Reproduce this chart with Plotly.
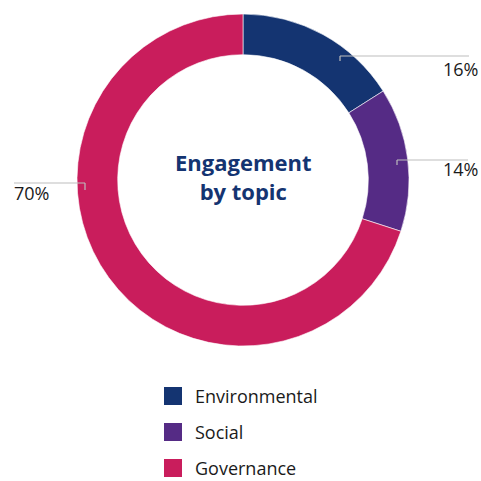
import plotly.graph_objects as go

categories = ["Environmental", "Social", "Governance"]
values = [16, 14, 70]
label_texts = ["16%", "14%", "70%"]
colors = ["#143471", "#552B85", "#C91D5C"]
center_title = "Engagement<br>by topic"

W = H = 481
cx, cy, R = 243, 180, 166

def px(x):
    return x / W

def py(y):
    return 1 - y / H

fig = go.Figure()
fig.add_trace(go.Pie(
    labels=categories, values=values, sort=False, direction="clockwise",
    rotation=0, hole=0.755, textinfo="none", hoverinfo="label+percent",
    marker=dict(colors=colors, line=dict(color="#ffffff", width=0.6)),
    domain=dict(x=[px(cx - R), px(cx + R)], y=[py(cy + R), py(cy - R)]),
    showlegend=False,
))

# leader lines: (tick start, elbow, end), label anchor
leaders = [
    ((340, 61), (340, 56), (469, 56), (480, 69), "right"),
    ((397, 165), (397, 160), (468, 160), (480, 169), "right"),
    ((85, 190), (85, 183), (14, 183), (12, 193), "left"),
]
shapes = []
annotations = []
for (p0, p1, p2, lab, anc), txt in zip(leaders, label_texts):
    for a, b in ((p0, p1), (p1, p2)):
        shapes.append(dict(type="line", xref="paper", yref="paper",
                           x0=px(a[0]), y0=py(a[1]), x1=px(b[0]), y1=py(b[1]),
                           line=dict(color="#bdbdbd", width=1.2)))
    annotations.append(dict(text=txt, x=px(lab[0]), y=py(lab[1]), xref="paper", yref="paper",
                            xanchor=anc, yanchor="middle", showarrow=False,
                            font=dict(family="Open Sans", size=18, color="#1a1a1a")))

annotations.append(dict(text="<b>" + center_title.replace("<br>", "</b><br><b>") + "</b>",
                        x=px(cx), y=py(177), xref="paper", yref="paper",
                        xanchor="center", yanchor="middle", showarrow=False,
                        font=dict(family="Open Sans", size=22, color="#143471")))

# legend
for i, (cat, col) in enumerate(zip(categories, colors)):
    yc = 396 + 36 * i
    shapes.append(dict(type="rect", xref="paper", yref="paper",
                       x0=px(164), x1=px(182), y0=py(yc - 9), y1=py(yc + 9),
                       fillcolor=col, line=dict(width=0)))
    annotations.append(dict(text=cat, x=px(193), y=py(yc), xref="paper", yref="paper",
                            xanchor="left", yanchor="middle", showarrow=False,
                            font=dict(family="Open Sans", size=18, color="#1a1a1a")))

fig.update_layout(
    width=W, height=H, margin=dict(l=0, r=0, t=0, b=0),
    paper_bgcolor="#ffffff", plot_bgcolor="#ffffff",
    shapes=shapes, annotations=annotations,
)
fig.write_html("out.html")
